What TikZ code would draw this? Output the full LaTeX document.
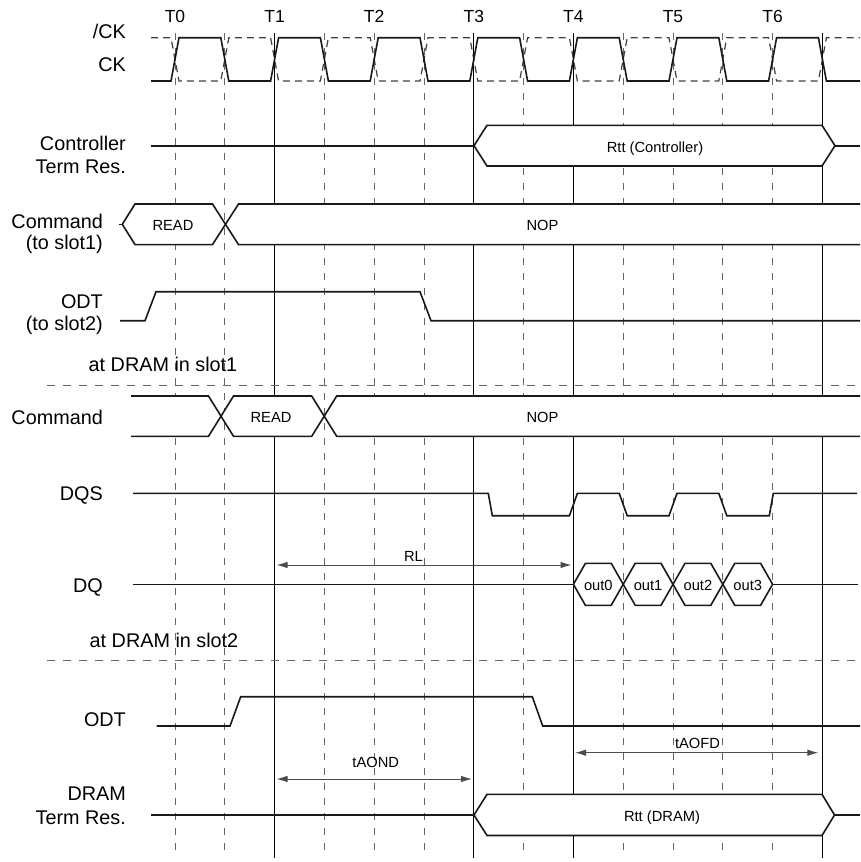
\documentclass[tikz,border=0pt]{standalone}
\usepackage{fontspec}
\setmainfont{Liberation Sans}
\usetikzlibrary{arrows.meta}
\begin{document}
\begin{tikzpicture}[x=1pt,y=-1pt,
  sig/.style={line width=1.6pt, black!90, line join=miter},
  clkd/.style={line width=1.2pt, black!75, dash pattern=on 7pt off 5pt},
  gridd/.style={line width=1pt, black!60, dash pattern=on 7pt off 8pt},
  grids/.style={line width=1pt, black},
  sepd/.style={line width=1pt, black!60, dash pattern=on 8pt off 8pt},
  meas/.style={line width=1pt, black!70, {Latex[length=11pt,width=6.5pt]}-{Latex[length=11pt,width=6.5pt]}},
  lab/.style={font=\fontsize{19.8}{23}\selectfont, inner sep=0pt, anchor=east, text height=14.2pt, text depth=0pt},
  free/.style={font=\fontsize{19.8}{23}\selectfont, inner sep=0pt, text height=14.2pt, text depth=0pt},
  tlab/.style={font=\fontsize{17.5}{20}\selectfont, inner sep=0pt, text height=12.5pt, text depth=0pt},
  small/.style={font=\fontsize{14.7}{17}\selectfont, inner sep=0pt, text height=10.5pt, text depth=0pt}
]
\useasboundingbox (0,0) rectangle (860,862);
% grid lines
\foreach \i in {0,1,3,4,5,7,9,10,11,12}
  \draw[gridd] ({175+49.8*\i},33) -- ({175+49.8*\i},858);
\foreach \i in {2,6,8,13}
  \draw[grids] ({175+49.8*\i},33) -- ({175+49.8*\i},858);
% separators
\draw[sepd] (46.7,385) -- (860,385);
\draw[sepd] (46.7,660.7) -- (860,660.7);
% clock
\draw[clkd] (151,37.7) foreach \k in {0,...,6} { -- ({171+99.6*\k},37.7) -- ({179+99.6*\k},81) -- ({220.8+99.6*\k},81) -- ({228.8+99.6*\k},37.7) } -- (860,37.7);
\draw[sig] (151,81) foreach \k in {0,...,6} { -- ({171+99.6*\k},81) -- ({179+99.6*\k},37.7) -- ({220.8+99.6*\k},37.7) -- ({228.8+99.6*\k},81) } -- (860,81);
% controller term res
\draw[sig] (151,145.7) -- (474,145.7);
\filldraw[sig, fill=white] (474,145.7) -- (487,125.3) -- (822,125.3) -- (835,145.7) -- (822,166) -- (487,166) -- cycle;
\draw[sig] (835,145.7) -- (860,145.7);
% command to slot1
\draw[sig] (118.5,224.3) -- (122.3,224.3);
\filldraw[sig, fill=white] (122.3,224.3) -- (135,204) -- (212.5,204) -- (225.5,224.3) -- (212.5,244.6) -- (135,244.6) -- cycle;
\fill[white] (225.5,224.3) -- (238.5,204) -- (860,204) -- (860,244.6) -- (238.5,244.6) -- cycle;
\draw[sig] (860,204) -- (238.5,204) -- (225.5,224.3) -- (238.5,244.6) -- (860,244.6);
% ODT to slot2
\draw[sig] (120,320.7) -- (145,320.7) -- (156,291.7) -- (420,291.7) -- (431,320.7) -- (860,320.7);
% command at DRAM slot1
\fill[white] (131,396) -- (208.5,396) -- (221,416.2) -- (208.5,436.3) -- (131,436.3) -- cycle;
\draw[sig] (131,396) -- (208.5,396) -- (221,416.2) -- (208.5,436.3) -- (131,436.3);
\filldraw[sig, fill=white] (221,416.2) -- (233.5,396) -- (311.7,396) -- (324.2,416.2) -- (311.7,436.3) -- (233.5,436.3) -- cycle;
\fill[white] (324.2,416.2) -- (336.7,396) -- (860,396) -- (860,436.3) -- (336.7,436.3) -- cycle;
\draw[sig] (860,396) -- (336.7,396) -- (324.2,416.2) -- (336.7,436.3) -- (860,436.3);
% DQS
\draw[sig] (133,493.3) -- (488.3,493.3) -- (492.3,515.7) -- (569.4,515.7) -- (577.4,493.3) -- (619.2,493.3) -- (627.2,515.7) -- (669,515.7) -- (677,493.3) -- (718.8,493.3) -- (726.8,515.7) -- (769.3,515.7) -- (773.3,493.3) -- (857,493.3);
% DQ
\draw[sig] (133,584.3) -- (573.4,584.3);
\foreach \a in {573.4,623.2,673,722.8}
  \filldraw[sig, fill=white] (\a,584.3) -- ({\a+12},563.3) -- ({\a+37.8},563.3) -- ({\a+49.8},584.3) -- ({\a+37.8},605.3) -- ({\a+12},605.3) -- cycle;
\draw[sig] (772.6,584.3) -- (858,584.3);
% ODT slot2
\draw[sig] (156.7,726) -- (230,726) -- (240.7,696.7) -- (532.3,696.7) -- (542.7,726) -- (860,726);
% DRAM term res
\draw[sig] (151,815) -- (474,815);
\filldraw[sig, fill=white] (474,815) -- (487,794.3) -- (822,794.3) -- (834.5,815) -- (822,835.5) -- (487,835.5) -- cycle;
\draw[sig] (834.5,815) -- (860,815);
% measurement arrows
\coordinate (rlA) at (276.5,565);
\coordinate (rlB) at (571.5,565);
\coordinate (aonA) at (276.5,779);
\coordinate (aonB) at (472,779);
\coordinate (aofA) at (575,752.7);
\coordinate (aofB) at (818.3,752.7);
\draw[meas] (rlA) -- (rlB);
\draw[meas] (aonA) -- (aonB);
\draw[meas] (aofA) -- (aofB);
% T labels
\foreach \n in {0,...,6}
  \node[tlab] (T\n) at ({175+99.6*\n},16) {T\n};
% row labels
\node[lab] (nck) at (126,31.7) {/CK};
\node[lab] (ck) at (126,64) {CK};
\node[lab] (ctl1) at (126,143.3) {Controller};
\node[lab] (ctl2) at (126,166.7) {Term Res.};
\node[lab] (cmd1) at (103,221) {Command};
\node[lab] (cmd2) at (103,242) {(to slot1)};
\node[lab] (odt1) at (103,301) {ODT};
\node[lab] (odt2) at (103,323) {(to slot2)};
\node[free] (slot1) at (163,364) {at DRAM in slot1};
\node[lab] (cmd3) at (103,417) {Command};
\node[lab] (dqs) at (103,493) {DQS};
\node[lab] (dq) at (103,585.5) {DQ};
\node[free] (slot2) at (164,640) {at DRAM in slot2};
\node[lab] (odt3) at (126,719) {ODT};
\node[lab] (dr1) at (126,793.3) {DRAM};
\node[lab] (dr2) at (126,817.3) {Term Res.};
% bus labels
\node[small] (rttc) at (655,147) {Rtt (Controller)};
\node[small] (rd1) at (173,225) {READ};
\node[small] (nop1) at (542.5,225) {NOP};
\node[small] (rd2) at (271,417) {READ};
\node[small] (nop2) at (542.5,417) {NOP};
\node[small] (rl) at (413.5,556) {RL};
\node[small] (o0) at (598.3,585.5) {out0};
\node[small] (o1) at (648.1,585.5) {out1};
\node[small] (o2) at (697.9,585.5) {out2};
\node[small] (o3) at (747.7,585.5) {out3};
\node[small] (taond) at (375.7,762.3) {tAOND};
\node[small] (taofd) at (697.5,743.3) {tAOFD};
\node[small] (rttd) at (662,816.7) {Rtt (DRAM)};
\end{tikzpicture}
\end{document}
